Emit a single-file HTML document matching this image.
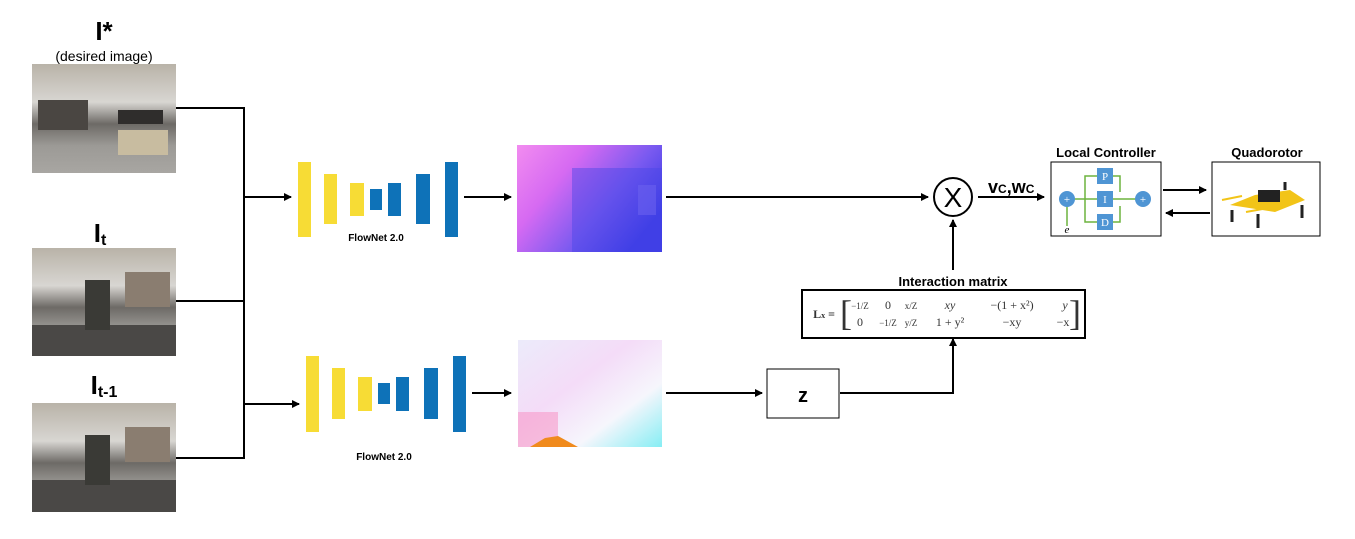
<!DOCTYPE html>
<html><head><meta charset="utf-8"><style>
html,body{margin:0;padding:0;background:#fff;}
svg{display:block;font-family:"Liberation Sans",sans-serif;}
</style></head><body>
<svg width="1355" height="539" viewBox="0 0 1355 539">
<defs>
<marker id="ah" markerWidth="8" markerHeight="8" refX="7" refY="4" orient="auto" markerUnits="userSpaceOnUse"><path d="M0,0 L8,4 L0,8 z" fill="#000"/></marker>
<linearGradient id="room" x1="0" y1="0" x2="0" y2="1"><stop offset="0" stop-color="#b9b3a8"/><stop offset="0.35" stop-color="#d8d6d2"/><stop offset="0.55" stop-color="#6d6a66"/><stop offset="0.75" stop-color="#9c9a96"/><stop offset="1" stop-color="#a8a6a2"/></linearGradient>
<linearGradient id="flow1" x1="0" y1="0" x2="1" y2="0.6"><stop offset="0" stop-color="#f28cf0"/><stop offset="0.35" stop-color="#d66af2"/><stop offset="0.7" stop-color="#7a5af0"/><stop offset="1" stop-color="#3a3ae6"/></linearGradient>
<linearGradient id="flow2" x1="0" y1="0" x2="1" y2="1"><stop offset="0" stop-color="#ecebfa"/><stop offset="0.4" stop-color="#f4dcf8"/><stop offset="0.7" stop-color="#f6f6fc"/><stop offset="1" stop-color="#86eef4"/></linearGradient>
</defs>

<text x="104" y="40" font-size="26" font-weight="bold" text-anchor="middle">I*</text>
<text x="104" y="61" font-size="14" text-anchor="middle">(desired image)</text>
<text x="100" y="242" font-size="26" font-weight="bold" text-anchor="middle">I<tspan font-size="16" dy="3">t</tspan></text>
<text x="104" y="394" font-size="26" font-weight="bold" text-anchor="middle">I<tspan font-size="16" dy="3">t-1</tspan></text>

<g>
<rect x="32" y="64" width="144" height="109" fill="url(#room)"/>
<rect x="38" y="100" width="50" height="30" fill="#4a4642"/><rect x="118" y="110" width="45" height="14" fill="#2f2d2c"/><rect x="118" y="130" width="50" height="25" fill="#c8bca0"/>
</g>
<g>
<rect x="32" y="248" width="144" height="108" fill="url(#room)"/>
<rect x="32" y="325" width="144" height="31" fill="#4a4846"/><rect x="125" y="272" width="45" height="35" fill="#8a7d70"/><rect x="85" y="280" width="25" height="50" fill="#3a3a36"/>
</g>
<g>
<rect x="32" y="403" width="144" height="109" fill="url(#room)"/>
<rect x="32" y="480" width="144" height="32" fill="#4a4846"/><rect x="125" y="427" width="45" height="35" fill="#8a7d70"/><rect x="85" y="435" width="25" height="50" fill="#3a3a36"/>
</g>

<g stroke="#000" stroke-width="2" fill="none">
<path d="M176,108 H244 V458 H176"/>
<path d="M176,301 H244"/>
<path d="M244,197 H291" marker-end="url(#ah)"/>
<path d="M244,404 H299" marker-end="url(#ah)"/>
<path d="M464,197 H511" marker-end="url(#ah)"/>
<path d="M472,393 H511" marker-end="url(#ah)"/>
<path d="M666,197 H928" marker-end="url(#ah)"/>
<path d="M666,393 H762" marker-end="url(#ah)"/>
<path d="M840,393 H953 V339" marker-end="url(#ah)"/>
<path d="M953,270 V220" marker-end="url(#ah)"/>
<path d="M978,197 H1044" marker-end="url(#ah)"/>
<path d="M1163,190 H1206" marker-end="url(#ah)"/>
<path d="M1210,213 H1166" marker-end="url(#ah)"/>
</g>

<g>
<rect x="298" y="162" width="13" height="75" fill="#f7dc35"/>
<rect x="324" y="174" width="13" height="50" fill="#f7dc35"/>
<rect x="350" y="183" width="14" height="33" fill="#f7dc35"/>
<rect x="370" y="189" width="12" height="21" fill="#0e72b8"/>
<rect x="388" y="183" width="13" height="33" fill="#0e72b8"/>
<rect x="416" y="174" width="14" height="50" fill="#0e72b8"/>
<rect x="445" y="162" width="13" height="75" fill="#0e72b8"/>
<text x="376" y="241" font-size="10" font-weight="bold" text-anchor="middle">FlowNet 2.0</text>
</g>
<g>
<rect x="306" y="356" width="13" height="76" fill="#f7dc35"/>
<rect x="332" y="368" width="13" height="51" fill="#f7dc35"/>
<rect x="358" y="377" width="14" height="34" fill="#f7dc35"/>
<rect x="378" y="383" width="12" height="21" fill="#0e72b8"/>
<rect x="396" y="377" width="13" height="34" fill="#0e72b8"/>
<rect x="424" y="368" width="14" height="51" fill="#0e72b8"/>
<rect x="453" y="356" width="13" height="76" fill="#0e72b8"/>
<text x="384" y="460" font-size="10" font-weight="bold" text-anchor="middle">FlowNet 2.0</text>
</g>

<g>
<rect x="517" y="145" width="145" height="107" fill="url(#flow1)"/>
<rect x="572" y="168" width="90" height="84" fill="#4a48e6" opacity="0.45"/>
<rect x="638" y="185" width="18" height="30" fill="#6a60ee" opacity="0.6"/>
</g>
<g>
<rect x="518" y="340" width="144" height="107" fill="url(#flow2)"/>
<rect x="518" y="412" width="40" height="35" fill="#f78cc0" opacity="0.5"/>
<path d="M530,447 L545,438 L558,436 L578,447 Z" fill="#f08a1c"/>
</g>

<rect x="767" y="369" width="72" height="49" fill="#fff" stroke="#000" stroke-width="1"/>
<text x="803" y="402" font-size="20" font-weight="bold" text-anchor="middle">z</text>

<g>
<circle cx="953" cy="197" r="19" fill="#fff" stroke="#000" stroke-width="2"/>
<text x="953" y="207" font-size="28" text-anchor="middle">X</text>
</g>
<text x="988" y="193" font-size="18" font-weight="bold">v<tspan font-size="12">C</tspan>,w<tspan font-size="12">C</tspan></text>

<text x="953" y="286" font-size="13" font-weight="bold" text-anchor="middle">Interaction matrix</text>
<g>
<rect x="802" y="290" width="283" height="48" fill="#fff" stroke="#000" stroke-width="2"/>
<g font-family="Liberation Serif,serif" font-size="12" fill="#333" text-anchor="middle">
<text x="824" y="318" font-weight="bold">L<tspan font-size="8">x</tspan> =</text>
<text x="846" y="325" font-size="36" font-weight="100">[</text>
<text x="1075" y="325" font-size="36" font-weight="100">]</text>
<text x="860" y="309" font-size="9">−1/Z</text><text x="888" y="309">0</text><text x="911" y="309" font-size="9">x/Z</text><text x="950" y="309" font-style="italic">xy</text><text x="1012" y="309">−(1 + x²)</text><text x="1065" y="309" font-style="italic">y</text>
<text x="860" y="326">0</text><text x="888" y="326" font-size="9">−1/Z</text><text x="911" y="326" font-size="9">y/Z</text><text x="950" y="326">1 + y²</text><text x="1012" y="326">−xy</text><text x="1063" y="326">−x</text>
</g>
</g>

<text x="1106" y="157" font-size="13" font-weight="bold" text-anchor="middle">Local Controller</text>
<g>
<rect x="1051" y="162" width="110" height="74" fill="#fff" stroke="#000" stroke-width="1"/>
<g stroke="#6db33f" stroke-width="1.5" fill="none">
<path d="M1074,199 H1097 M1085,199 V176 H1097 M1085,199 V222 H1097 M1110,176 H1120 V192 M1110,199 H1136 M1110,222 H1120 V206 M1067,226 V206"/>
</g>
<circle cx="1067" cy="199" r="8" fill="#4f95d4"/>
<circle cx="1143" cy="199" r="8" fill="#4f95d4"/>
<rect x="1097" y="168" width="16" height="16" fill="#4f95d4"/>
<rect x="1097" y="191" width="16" height="16" fill="#4f95d4"/>
<rect x="1097" y="214" width="16" height="16" fill="#4f95d4"/>
<g font-family="Liberation Serif,serif" font-size="11" fill="#fff" text-anchor="middle">
<text x="1105" y="180">P</text><text x="1105" y="203">I</text><text x="1105" y="226">D</text>
<text x="1067" y="203">+</text><text x="1143" y="203">+</text>
</g>
<text x="1067" y="233" font-family="Liberation Serif,serif" font-style="italic" font-size="11" text-anchor="middle">e</text>
</g>

<text x="1267" y="157" font-size="13" font-weight="bold" text-anchor="middle">Quadorotor</text>
<g>
<rect x="1212" y="162" width="108" height="74" fill="#fff" stroke="#000" stroke-width="1"/>
<path d="M1230,205 L1255,195 L1290,190 L1305,200 L1275,212 Z" fill="#f2c418"/>
<rect x="1258" y="190" width="22" height="12" fill="#222"/>
<g stroke="#222" stroke-width="3"><line x1="1232" y1="210" x2="1232" y2="222"/><line x1="1258" y1="214" x2="1258" y2="228"/><line x1="1302" y1="205" x2="1302" y2="218"/><line x1="1285" y1="190" x2="1285" y2="182"/></g>
<g stroke="#f2c418" stroke-width="2"><line x1="1222" y1="200" x2="1242" y2="196"/><line x1="1246" y1="212" x2="1268" y2="208"/></g>
</g>
</svg>
</body></html>
